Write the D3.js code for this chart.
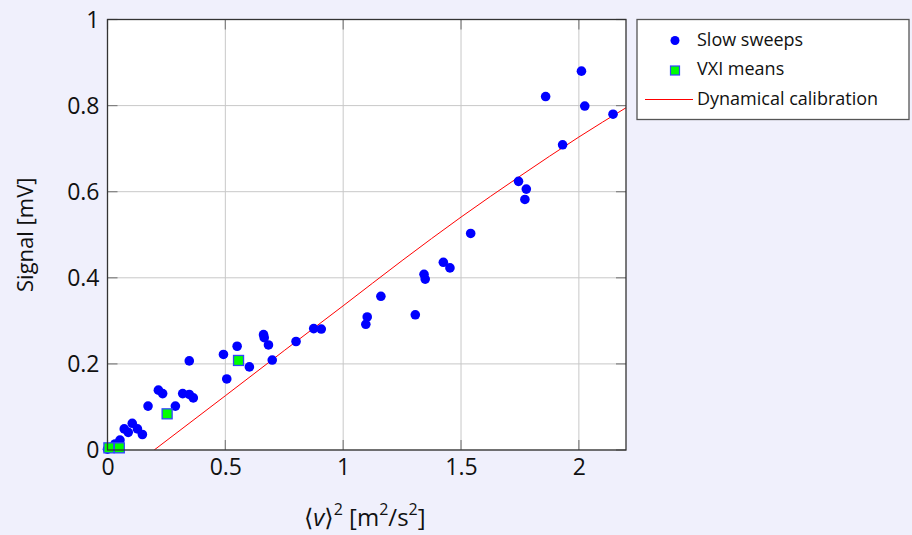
<!DOCTYPE html>
<html>
<head>
<meta charset="utf-8">
<script src="https://cdn.jsdelivr.net/npm/d3@7"></script>
<style>
  body { margin: 0; background: #f0f0fc; }
  svg { display: block; font-family: "Open Sans", "DejaVu Sans", sans-serif; }
</style>
</head>
<body>
<svg id="chart" width="912" height="535"></svg>
<script>
// slow sweeps: <v>^2 [m^2/s^2] and signal [mV]
const sweepX = [0, 0.032, 0.053, 0.071, 0.088, 0.105, 0.127, 0.148, 0.172, 0.216, 0.234,
  0.288, 0.319, 0.347, 0.364, 0.347, 0.492, 0.506, 0.550, 0.602, 0.662, 0.665, 0.683, 0.699,
  0.800, 0.875, 0.907, 1.096, 1.102, 1.160, 1.306, 1.343, 1.348, 1.425, 1.453, 1.541,
  1.744, 1.777, 1.771, 1.859, 1.931, 2.011, 2.025, 2.145];
const sweepY = [0.002, 0.014, 0.023, 0.049, 0.041, 0.062, 0.049, 0.036, 0.102, 0.139, 0.131,
  0.102, 0.131, 0.129, 0.121, 0.207, 0.222, 0.165, 0.241, 0.193, 0.268, 0.261, 0.244, 0.209,
  0.252, 0.282, 0.281, 0.292, 0.309, 0.357, 0.314, 0.408, 0.397, 0.436, 0.423, 0.503,
  0.624, 0.606, 0.582, 0.821, 0.709, 0.880, 0.799, 0.780];

// VXI means
const vxiX = [0.006, 0.050, 0.253, 0.556];
const vxiY = [0.005, 0.005, 0.084, 0.208];

// dynamical calibration curve
const calX = [0.198, 0.5, 0.75, 1.0, 1.25, 1.5, 1.75, 2.0, 2.2];
const calY = [0, 0.126, 0.231, 0.335, 0.440, 0.541, 0.636, 0.727, 0.795];

const xTicks = [0, 0.5, 1, 1.5, 2];
const yTicks = [0, 0.2, 0.4, 0.6, 0.8, 1];
const legendLabels = ["Slow sweeps", "VXI means", "Dynamical calibration"];

const margin = { left: 107.5, top: 19.5, right: 912 - 626, bottom: 535 - 450 };
const svg = d3.select("#chart");
const W = 912 - margin.left - margin.right;
const H = 535 - margin.top - margin.bottom;

const x = d3.scaleLinear().domain([0, 2.2]).range([0, W]);
const y = d3.scaleLinear().domain([0, 1]).range([H, 0]);

const g = svg.append("g").attr("transform", `translate(${margin.left},${margin.top})`);

g.append("rect").attr("width", W).attr("height", H).attr("fill", "white");

// grid
g.append("g").selectAll("line").data(xTicks).join("line")
  .attr("x1", d => x(d)).attr("x2", d => x(d)).attr("y1", 0).attr("y2", H)
  .attr("stroke", "#c8c8c8").attr("stroke-width", 1);
g.append("g").selectAll("line").data(yTicks).join("line")
  .attr("x1", 0).attr("x2", W).attr("y1", d => y(d)).attr("y2", d => y(d))
  .attr("stroke", "#c8c8c8").attr("stroke-width", 1);

// inner ticks on all four sides
const tk = 10;
const tickG = g.append("g").attr("stroke", "#808080").attr("stroke-width", 1.2);
xTicks.forEach(t => {
  tickG.append("line").attr("x1", x(t)).attr("x2", x(t)).attr("y1", H).attr("y2", H - tk);
  tickG.append("line").attr("x1", x(t)).attr("x2", x(t)).attr("y1", 0).attr("y2", tk);
});
yTicks.forEach(t => {
  tickG.append("line").attr("x1", 0).attr("x2", tk).attr("y1", y(t)).attr("y2", y(t));
  tickG.append("line").attr("x1", W).attr("x2", W - tk).attr("y1", y(t)).attr("y2", y(t));
});

// tick labels via d3 axes, lines hidden
const xAxis = g.append("g").attr("transform", `translate(0,${H})`)
  .call(d3.axisBottom(x).tickValues(xTicks).tickFormat(d3.format("")).tickSize(0).tickPadding(9));
const yAxis = g.append("g")
  .call(d3.axisLeft(y).tickValues(yTicks).tickFormat(d3.format("")).tickSize(0).tickPadding(8));
[xAxis, yAxis].forEach(a => {
  a.select(".domain").remove();
  a.selectAll("text").attr("font-size", 23).attr("fill", "#111")
    .attr("font-family", "'Open Sans', sans-serif");
});
yAxis.selectAll("text").attr("dy", "0.34em");

// clip for the calibration line
svg.append("defs").append("clipPath").attr("id", "clip")
  .append("rect").attr("width", W).attr("height", H);

const line = d3.line().x(d => x(d[0])).y(d => y(d[1])).curve(d3.curveMonotoneX);
g.append("path").datum(calX.map((v, i) => [v, calY[i]]))
  .attr("d", line).attr("fill", "none").attr("stroke", "#ff0000").attr("stroke-width", 1)
  .attr("clip-path", "url(#clip)");

// slow sweep points
g.append("g").selectAll("circle").data(sweepX.map((v, i) => [v, sweepY[i]])).join("circle")
  .attr("cx", d => x(d[0])).attr("cy", d => y(d[1])).attr("r", 4.8).attr("fill", "#0000ff");

// VXI means
const s = 10;
g.append("g").selectAll("rect").data(vxiX.map((v, i) => [v, vxiY[i]])).join("rect")
  .attr("x", d => x(d[0]) - s / 2).attr("y", d => y(d[1]) - s / 2)
  .attr("width", s).attr("height", s)
  .attr("fill", "#00ff00").attr("stroke", "#3344ff").attr("stroke-width", 1.3);

// frame
g.append("rect").attr("width", W).attr("height", H).attr("fill", "none")
  .attr("stroke", "#333").attr("stroke-width", 1.3);

// axis titles
const xt = svg.append("text").attr("x", margin.left + W / 2 - 2).attr("y", 526)
  .attr("text-anchor", "middle").attr("font-size", 24).attr("fill", "#111");
xt.append("tspan").text("\u27E8");
xt.append("tspan").attr("font-style", "italic").text("v");
xt.append("tspan").text("\u27E9");
xt.append("tspan").attr("font-size", 16).attr("dy", -11).text("2");
xt.append("tspan").attr("dy", 11).text(" [m");
xt.append("tspan").attr("font-size", 16).attr("dy", -11).text("2");
xt.append("tspan").attr("dy", 11).text("/s");
xt.append("tspan").attr("font-size", 16).attr("dy", -11).text("2");
xt.append("tspan").attr("dy", 11).text("]");

svg.append("text").attr("transform", `translate(33,${margin.top + H / 2}) rotate(-90)`)
  .attr("text-anchor", "middle").attr("font-size", 22).attr("fill", "#111")
  .text("Signal [mV]");

// legend
const lg = svg.append("g").attr("transform", "translate(637,19.5)");
lg.append("rect").attr("width", 272).attr("height", 100).attr("fill", "white")
  .attr("stroke", "#555").attr("stroke-width", 1.3);
legendLabels.forEach((t, i) => {
  lg.append("text").attr("x", 60).attr("y", 20 + i * 29.5).attr("dy", "0.36em")
    .attr("font-size", 18).attr("fill", "#111").text(t);
});
lg.append("circle").attr("cx", 38).attr("cy", 21).attr("r", 4.5).attr("fill", "#0000ff");
lg.append("rect").attr("x", 38 - 4.5).attr("y", 51 - 4.5).attr("width", 9).attr("height", 9)
  .attr("fill", "#00ff00").attr("stroke", "#3344ff").attr("stroke-width", 1.2);
lg.append("line").attr("x1", 8).attr("x2", 56).attr("y1", 80).attr("y2", 80)
  .attr("stroke", "#ff0000").attr("stroke-width", 1);
</script>
</body>
</html>
